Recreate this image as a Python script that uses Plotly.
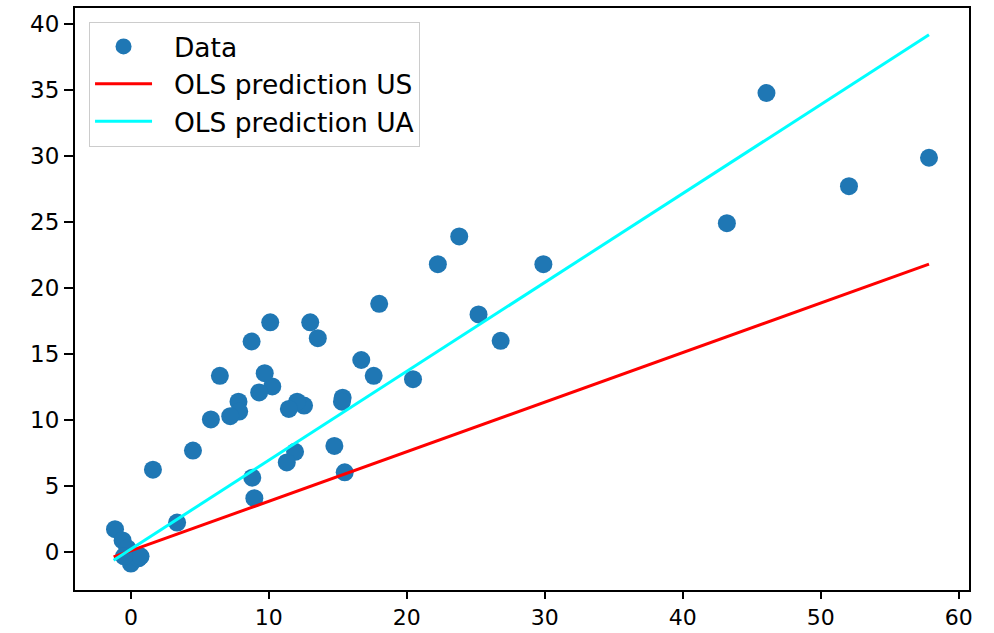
import plotly.graph_objects as go

# Scatter data
data_x = [57.85, 52.05, 46.07, 43.2, 29.9, 26.8, 25.2, 23.8, 22.25, 20.45,
          18.0, 17.6, 16.7, 15.35, 15.3, 15.5, 14.75, 13.55, 13.0, 12.55,
          12.05, 11.45, 11.9, 11.3, 10.1, 10.25, 9.7, 9.3, 8.75, 8.8,
          8.95, 7.8, 7.85, 7.2, 6.45, 5.8, 4.5, 3.35, 1.6, -1.15,
          -0.6, -0.25, 0.0, 0.55, 0.7, -0.5]
data_y = [29.85, 27.7, 34.75, 24.9, 21.8, 16.0, 18.0, 23.9, 21.8, 13.1,
          18.8, 13.35, 14.55, 11.7, 11.4, 6.05, 8.05, 16.2, 17.4, 11.1,
          11.4, 10.85, 7.6, 6.8, 17.4, 12.55, 13.55, 12.1, 15.95, 5.65,
          4.1, 11.4, 10.65, 10.3, 13.35, 10.05, 7.7, 2.25, 6.25, 1.75,
          0.9, 0.3, -0.85, -0.45, -0.3, -0.3]

# OLS prediction lines (endpoints)
line_x = [-1.25, 57.85]
pred_us = [-0.35, 21.8]
pred_ua = [-0.6, 39.15]

xticks = [0, 10, 20, 30, 40, 50, 60]
yticks = [0, 5, 10, 15, 20, 25, 30, 35, 40]

fig = go.Figure()
fig.add_trace(go.Scatter(x=data_x, y=data_y, mode="markers", name="\u00a0\u00a0Data",
                         marker=dict(color="#1f77b4", size=18, line=dict(width=0))))
fig.add_trace(go.Scatter(x=line_x, y=pred_us, mode="lines", name="\u00a0\u00a0OLS prediction US",
                         line=dict(color="#ff0000", width=3)))
fig.add_trace(go.Scatter(x=line_x, y=pred_ua, mode="lines", name="\u00a0\u00a0OLS prediction UA",
                         line=dict(color="#00ffff", width=3)))

axis_common = dict(showgrid=False, zeroline=False, showline=True, mirror=True,
                   linecolor="#000000", linewidth=2, ticks="outside",
                   tickwidth=2, tickcolor="#000000", automargin=False)

fig.update_layout(
    width=994, height=633,
    margin=dict(l=75, r=25, t=8, b=43),
    paper_bgcolor="white", plot_bgcolor="white",
    font=dict(family="DejaVu Sans", size=24, color="#000000"),
    xaxis=dict(range=[-4.05, 60.75], tickvals=xticks, ticklen=7,
               tickfont=dict(family="DejaVu Sans", size=22, color="#000000"),
               **axis_common),
    yaxis=dict(range=[-2.85, 41.18], tickvals=yticks, ticklen=9,
               tickfont=dict(family="DejaVu Sans", size=23, color="#000000"),
               **axis_common),
    legend=dict(x=0.0157, y=0.9765, xanchor="left", yanchor="top",
                bgcolor="rgba(255,255,255,0.8)", bordercolor="#cccccc", borderwidth=1,
                font=dict(family="DejaVu Sans", size=26.5, color="#000000"),
                itemwidth=57),
    showlegend=True,
)

fig.write_html("out.html", config={"displayModeBar": False},
               post_script="document.body.style.margin='0';document.body.style.overflow='hidden';")
